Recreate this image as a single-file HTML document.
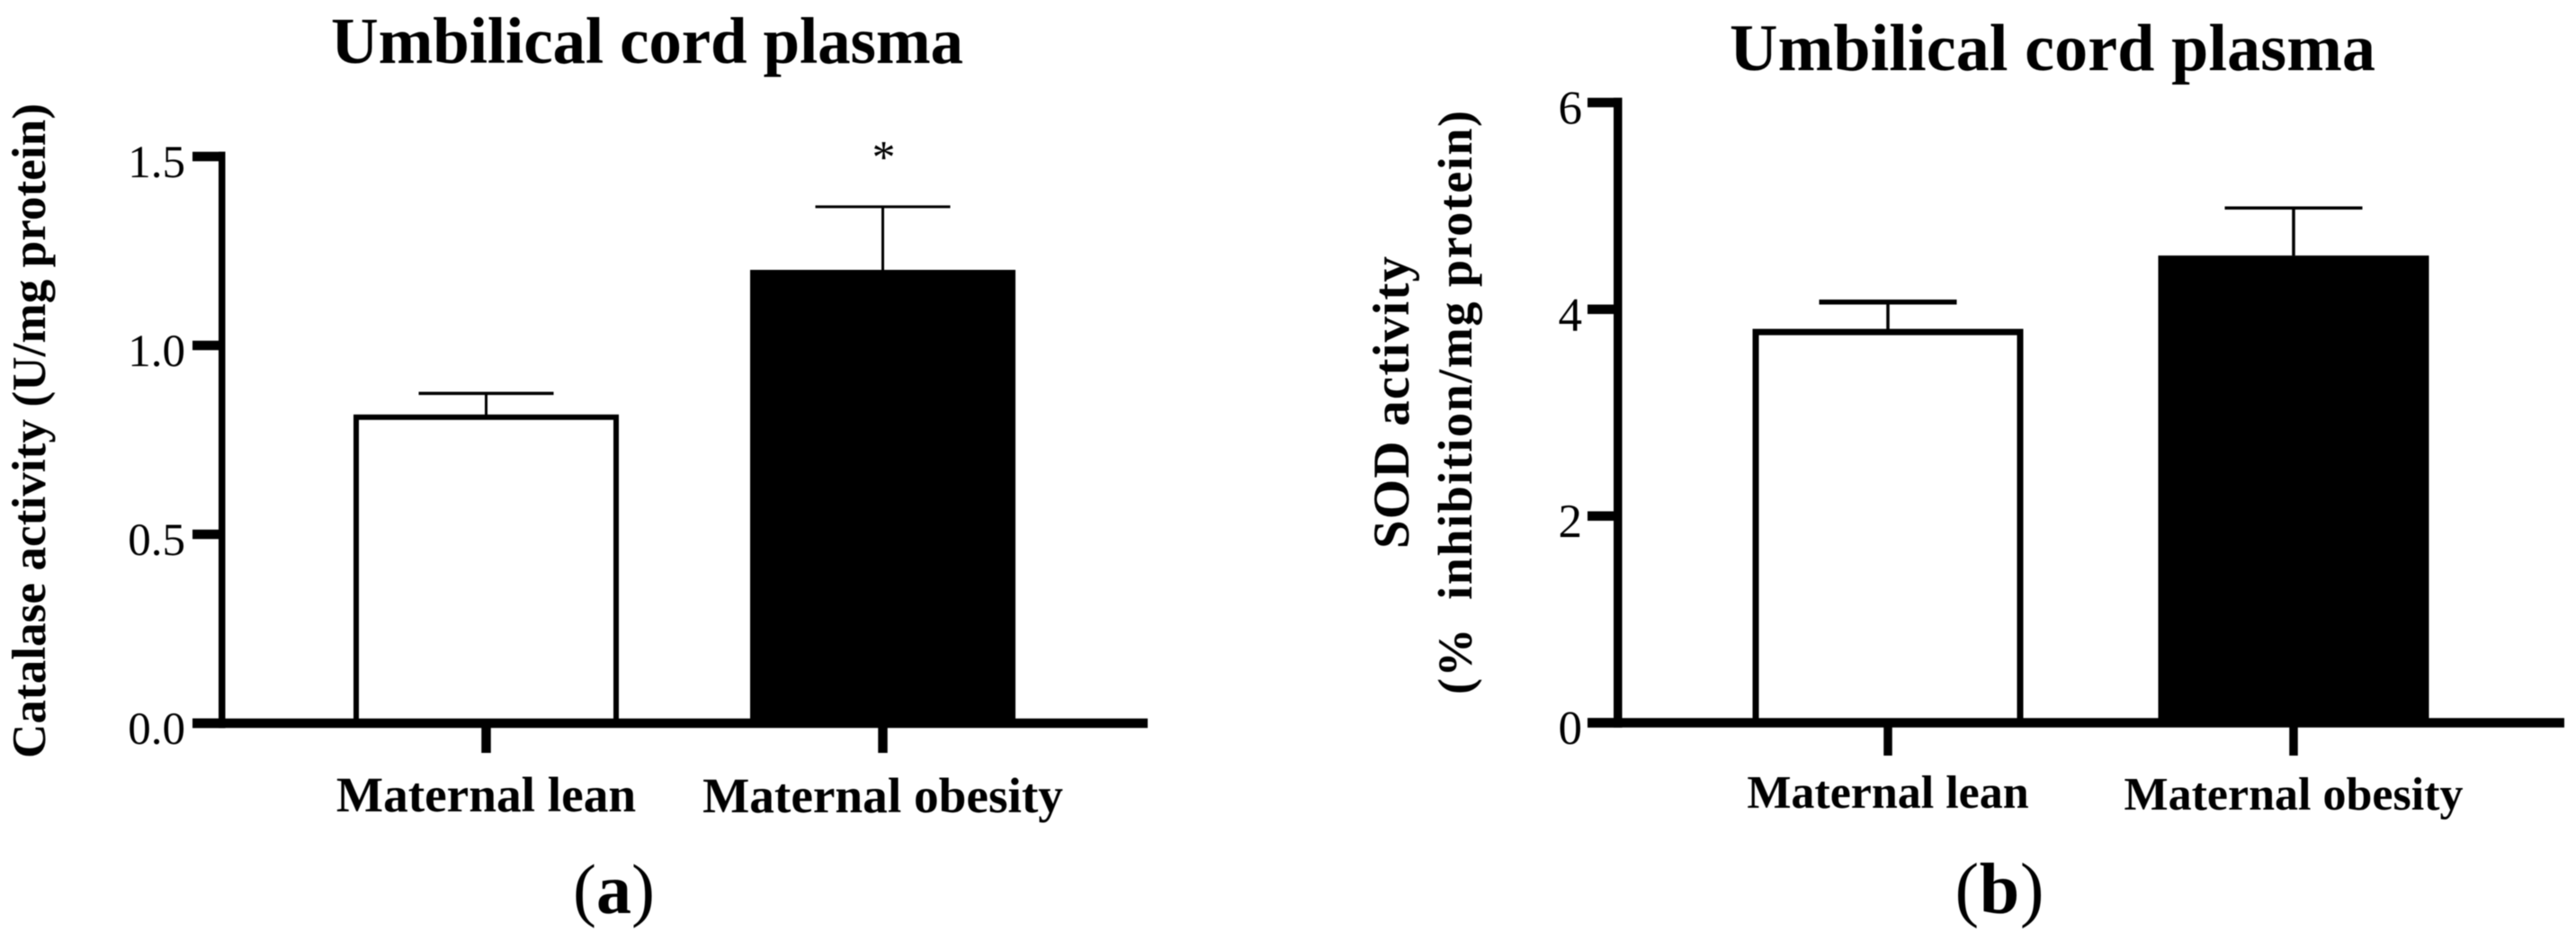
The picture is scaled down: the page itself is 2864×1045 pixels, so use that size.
<!DOCTYPE html>
<html lang="en">
<head>
<meta charset="utf-8">
<title>Umbilical cord plasma antioxidant activity</title>
<style>
  html, body { margin: 0; padding: 0; background: #fff; }
  body { width: 2864px; height: 1045px; overflow: hidden; }
  svg { display: block; filter: blur(0.5px); }
  text { font-family: "Liberation Serif", serif; fill: #000; }
  .b { font-weight: bold; }
</style>
</head>
<body>
<svg id="figure" xmlns="http://www.w3.org/2000/svg" width="2864" height="1045" viewBox="0 0 2864 1045">
  <rect width="2864" height="1045" fill="#fff"/>

  <g id="panel-a">
    <text class="b" x="719.5" y="70" font-size="73" text-anchor="middle" textLength="703">Umbilical cord plasma</text>
    <text class="b" transform="translate(50,479) rotate(-90)" font-size="53" text-anchor="middle" textLength="728">Catalase activity (U/mg protein)</text>
    <text x="682.5" y="1015" font-size="78" text-anchor="middle" textLength="91">(<tspan class="b">a</tspan>)</text>
  </g>

  <g id="panel-b">
    <text class="b" x="2282" y="78" font-size="74" text-anchor="middle" textLength="718">Umbilical cord plasma</text>
    <text class="b" transform="translate(1566,447.5) rotate(-90)" font-size="57" text-anchor="middle" textLength="325">SOD activity</text>
    <text class="b" transform="translate(1636,447.5) rotate(-90)" font-size="54" text-anchor="middle" textLength="649" xml:space="preserve">(%  inhibition/mg protein)</text>
    <text x="2223" y="1015" font-size="80" text-anchor="middle" textLength="99">(<tspan class="b">b</tspan>)</text>
  </g>
</svg>

<script>
// Shared categories
const categories = ['Maternal lean', 'Maternal obesity'];

// Panel (a): catalase activity (U/mg protein)
const catalaseValues = [0.81, 1.20];
const catalaseErrors = [0.063, 0.167];
const catalaseTicks = [0, 0.5, 1.0, 1.5];
const catalaseTickLabels = ['0.0', '0.5', '1.0', '1.5'];
const catalaseSignificance = ['', '*'];

// Panel (b): SOD activity (% inhibition/mg protein)
const sodValues = [3.78, 4.52];
const sodErrors = [0.29, 0.46];
const sodTicks = [0, 2, 4, 6];
const sodTickLabels = ['0', '2', '4', '6'];
const sodSignificance = ['', ''];

const SVG_NS = 'http://www.w3.org/2000/svg';

function setAttrs(el, attrs) {
  for (const k in attrs) el.setAttribute(k, attrs[k]);
}

function drawPanel(parent, cfg, cats, values, errors, ticks, tickLabels, marks) {
  const yScale = v => cfg.y0 - (v / cfg.yMax) * (cfg.y0 - cfg.yTop);
  const xScale = i => cfg.x0 + i * cfg.step;

  // bars (underneath axes)
  values.forEach((v, i) => {
    const cx = xScale(i);
    const top = yScale(v);
    const el = document.createElementNS(SVG_NS, 'rect');
    
    
    if (i === 0) {
      const s = cfg.barStroke;
      setAttrs(el, { x: cx - cfg.barW / 2 + s / 2, y: top, width: cfg.barW - s, height: cfg.y0 - top, fill: '#fff', stroke: '#000', 'stroke-width': s });
    } else {
      setAttrs(el, { x: cx - cfg.barW / 2, y: top, width: cfg.barW, height: cfg.y0 - top, fill: '#000' });
    }
    parent.appendChild(el);

    // error bar stem
    const hi = yScale(v + errors[i]);
    const stem = document.createElementNS(SVG_NS, 'rect');
    
    
    setAttrs(stem, { x: cx - cfg.stemW / 2, y: hi, width: cfg.stemW, height: top - hi, fill: '#000' });
    parent.appendChild(stem);

    // error bar cap
    const capT = i === 0 ? cfg.firstCapThick : cfg.capThick;
    const cap = document.createElementNS(SVG_NS, 'rect');
    
    
    setAttrs(cap, { x: cx - cfg.capW / 2, y: hi - capT / 2, width: cfg.capW, height: capT, fill: '#000' });
    parent.appendChild(cap);

    // significance marker
    if (marks[i]) {
      const star = document.createElementNS(SVG_NS, 'text');
      
      
      setAttrs(star, { x: cx + 1, y: hi + cfg.starDy, 'font-size': cfg.starSize, 'text-anchor': 'middle' });
      star.textContent = marks[i];
      parent.appendChild(star);
    }

    // category tick
    const tick = document.createElementNS(SVG_NS, 'rect');
    
    
    setAttrs(tick, { x: cx - cfg.xTickW / 2, y: cfg.y0, width: cfg.xTickW, height: cfg.xTickEnd - cfg.y0, fill: '#000' });
    parent.appendChild(tick);

    // category label
    const label = document.createElementNS(SVG_NS, 'text');
    
    
    setAttrs(label, { x: cx, y: cfg.catBaseline + i * cfg.catBaselineStep, 'font-size': cfg.catSize, 'font-weight': 'bold', 'text-anchor': 'middle' });
    label.textContent = cats[i];
    parent.appendChild(label);
  });

  // y axis line
  const yLine = document.createElementNS(SVG_NS, 'rect');
  
  
  setAttrs(yLine, { x: cfg.axisX, y: yScale(cfg.yMax) - cfg.tickT / 2, width: cfg.axisW, height: cfg.y0 - yScale(cfg.yMax) + cfg.tickT, fill: '#000' });
  parent.appendChild(yLine);

  // x axis line
  const xLine = document.createElementNS(SVG_NS, 'rect');
  
  
  setAttrs(xLine, { x: cfg.tickLeft, y: cfg.y0 - cfg.tickT / 2, width: cfg.xEnd - cfg.tickLeft, height: cfg.tickT, fill: '#000' });
  parent.appendChild(xLine);

  // y ticks + labels
  ticks.forEach((t, i) => {
    const py = yScale(t);
    const tk = document.createElementNS(SVG_NS, 'rect');
    
    
    setAttrs(tk, { x: cfg.tickLeft, y: py - cfg.tickT / 2, width: cfg.axisX - cfg.tickLeft + cfg.axisW, height: cfg.tickT, fill: '#000' });
    parent.appendChild(tk);

    const lb = document.createElementNS(SVG_NS, 'text');
    
    
    setAttrs(lb, { x: cfg.tickLabelX, y: py + cfg.tickLabelDy, 'font-size': cfg.tickSize, 'text-anchor': 'end' });
    lb.textContent = tickLabels[i];
    parent.appendChild(lb);
  });
}

drawPanel(document.getElementById('panel-a'), {
  y0: 804, yTop: 174, yMax: 1.5, x0: 540.5, step: 441,
  barW: 295, barStroke: 6, stemW: 3, capW: 150, capThick: 3, firstCapThick: 3.5,
  starDy: -38, starSize: 52,
  xTickW: 10.5, xTickEnd: 837, catBaseline: 902, catBaselineStep: 1, catSize: 55.3,
  axisX: 243, axisW: 7.5, tickLeft: 214, tickT: 10.5, xEnd: 1276,
  tickLabelX: 206, tickLabelDy: 23, tickSize: 51
}, categories, catalaseValues, catalaseErrors, catalaseTicks, catalaseTickLabels, catalaseSignificance);

drawPanel(document.getElementById('panel-b'), {
  y0: 803.5, yTop: 114, yMax: 6, x0: 2099, step: 451,
  barW: 301, barStroke: 7, stemW: 3.5, capW: 153, capThick: 3.5, firstCapThick: 5.5,
  starDy: -38, starSize: 52,
  xTickW: 9.5, xTickEnd: 840, catBaseline: 898, catBaselineStep: 2, catSize: 52,
  axisX: 1794, axisW: 9.5, tickLeft: 1765, tickT: 10.5, xEnd: 2851,
  tickLabelX: 1759, tickLabelDy: 23.5, tickSize: 53
}, categories, sodValues, sodErrors, sodTicks, sodTickLabels, sodSignificance);
</script>
</body>
</html>
